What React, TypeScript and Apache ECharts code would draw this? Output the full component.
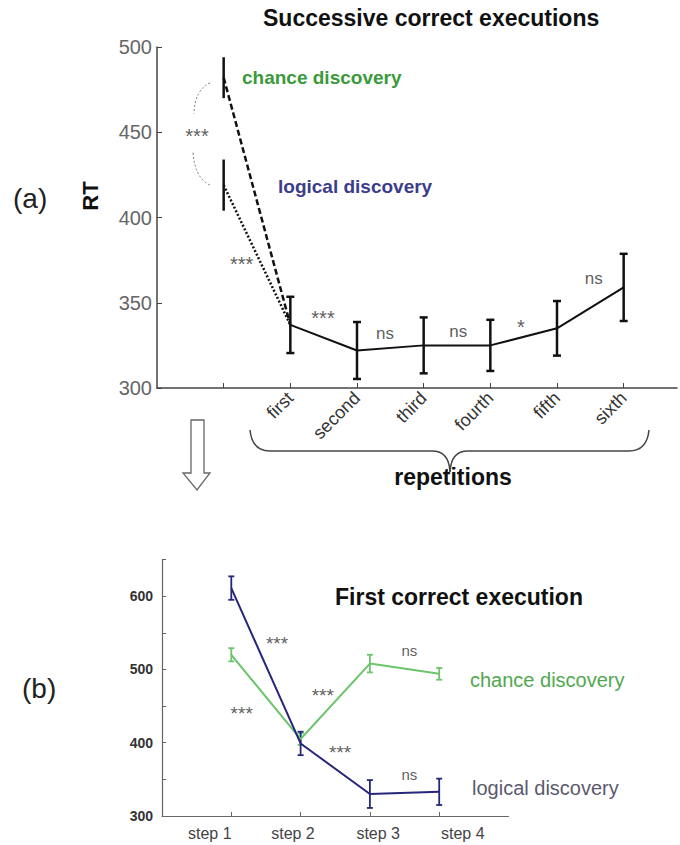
import React, { useEffect, useRef } from "react";
import * as echarts from "echarts";

// ---------- data ----------
const repNames = ["first", "second", "third", "fourth", "fifth", "sixth"];
const repX = [2, 3, 4, 5, 6, 7];
const repMeans = [337, 322, 325, 325, 335, 359];
const repErr = [16.5, 16.7, 16.4, 15, 16, 19.7];

const discX = 1;
const chanceDiscMean = 482;
const chanceDiscErr = 12;
const logicalDiscMean = 419;
const logicalDiscErr = 15;

const topSigX = [0.6, 1.27, 2.49, 3.42, 4.52, 5.46, 6.55];
const topSigY = [448, 373, 341, 332, 333, 336, 364];
const topSigText = ["***", "***", "***", "ns", "ns", "*", "ns"];

const topYTicks = [300, 350, 400, 450, 500];

const stepNames = ["step 1", "step 2", "step 3", "step 4"];
const stepX = [1, 2, 3, 4];
const stepLabelPos = [0.69, 1.89, 3.12, 4.34];
const logicalMeans = [611, 399, 330, 333];
const logicalErr = [16, 16, 19, 18];
const chanceMeans = [520, 405, 508, 494];
const chanceErr = [9, 8, 12, 8];

const botSigX = [1.66, 1.15, 2.32, 2.57, 3.57, 3.57];
const botSigY = [536, 440, 465, 386, 526, 356];
const botSigText = ["***", "***", "***", "***", "ns", "ns"];

const FONT = "Liberation Sans, Arial, Helvetica, sans-serif";

function errRender(color: string, width: number, cap: number) {
  return (params: any, api: any) => {
    const x = api.value(0);
    const lo = api.value(1);
    const hi = api.value(2);
    const p1 = api.coord([x, lo]);
    const p2 = api.coord([x, hi]);
    const style = { stroke: color, lineWidth: width };
    const children: any[] = [
      { type: "line", shape: { x1: p1[0], y1: p1[1], x2: p2[0], y2: p2[1] }, style },
    ];
    if (cap > 0) {
      children.push({ type: "line", shape: { x1: p1[0] - cap, y1: p1[1], x2: p1[0] + cap, y2: p1[1] }, style });
      children.push({ type: "line", shape: { x1: p2[0] - cap, y1: p2[1], x2: p2[0] + cap, y2: p2[1] }, style });
    }
    return { type: "group", children };
  };
}

function arcRender(params: any, api: any) {
  const a = api.coord([api.value(0), api.value(1)]);
  const c = api.coord([api.value(2), api.value(3)]);
  const b = api.coord([api.value(4), api.value(5)]);
  return {
    type: "bezierCurve",
    shape: { x1: a[0], y1: a[1], cpx1: c[0], cpy1: c[1], x2: b[0], y2: b[1] },
    style: { stroke: "#777", lineWidth: 1, lineDash: [2, 2], fill: null },
  };
}

// bracket arcs: [x1, y1, cpx, cpy, x2, y2] in data units
const arcUpper = [0.795, 479, 0.57, 475, 0.555, 461];
const arcLower = [0.54, 438, 0.57, 423, 0.795, 419];

function sigSeries(xs: number[], ys: number[], texts: string[], xi: number, starSize: number, nsSize: number) {
  return {
    type: "scatter",
    xAxisIndex: xi,
    yAxisIndex: xi,
    symbolSize: 0,
    silent: true,
    itemStyle: { color: "#333" },
    data: xs.map((x, i) => ({
      value: [x, ys[i]],
      name: texts[i],
      label: { fontSize: texts[i].includes("*") ? starSize : nsSize },
    })),
    label: {
      show: true,
      position: "inside",
      formatter: (p: any) => p.name,
      color: "#333",
      textBorderWidth: 0,
      fontFamily: FONT,
    },
  };
}

export default function App() {
  const ref = useRef<HTMLDivElement>(null);
  useEffect(() => {
    document.body.style.margin = "0";
    const chart = echarts.init(ref.current!, null, { renderer: "svg" });
    const axisLine = { show: true, lineStyle: { color: "#444", width: 1.5 } };
    const option: any = {
      animation: false,
      backgroundColor: "#fff",
      grid: [
        { left: 157, top: 47, width: 520, height: 341, outerBoundsMode: "none" },
        { left: 162, top: 559.5, width: 346.5, height: 256.5, outerBoundsMode: "none" },
      ],
      xAxis: [
        {
          type: "value",
          gridIndex: 0,
          min: 0,
          max: 7.8,
          interval: 1,
          splitLine: { show: false },
          axisLine,
          axisTick: { show: true, inside: true, length: 5, customValues: [1, 2, 3, 4, 5, 6, 7], lineStyle: { color: "#444" } },
          axisLabel: {
            rotate: 45,
            margin: 7,
            customValues: repX,
            formatter: (v: number) => repNames[repX.indexOf(v)] ?? "",
            color: "#333",
            fontSize: 18,
            fontFamily: FONT,
          },
        },
        {
          type: "value",
          gridIndex: 1,
          min: 0,
          max: 5,
          interval: 1,
          splitLine: { show: false },
          axisLine: { show: true, lineStyle: { color: "#666", width: 1.2 } },
          axisTick: { show: true, inside: true, length: 4, customValues: stepX, lineStyle: { color: "#666" } },
          axisLabel: {
            margin: 9,
            customValues: stepLabelPos,
            formatter: (v: number) => {
              let best = 0;
              stepLabelPos.forEach((p, i) => {
                if (Math.abs(p - v) < Math.abs(stepLabelPos[best] - v)) best = i;
              });
              return stepNames[best];
            },
            color: "#444",
            fontSize: 16,
            fontFamily: FONT,
          },
        },
      ],
      yAxis: [
        {
          type: "value",
          gridIndex: 0,
          min: 300,
          max: 500,
          interval: 50,
          splitLine: { show: false },
          axisLine,
          axisTick: { show: true, inside: true, length: 5, lineStyle: { color: "#444" } },
          axisLabel: { margin: 5, color: "#666", fontSize: 20, fontFamily: FONT, customValues: topYTicks },
        },
        {
          type: "value",
          gridIndex: 1,
          min: 300,
          max: 650,
          interval: 50,
          splitLine: { show: false },
          axisLine: { show: true, lineStyle: { color: "#666", width: 1.2 } },
          axisTick: { show: true, inside: true, length: 4, lineStyle: { color: "#666" } },
          axisLabel: {
            margin: 9,
            color: "#333",
            fontSize: 14,
            fontWeight: "bold",
            fontFamily: FONT,
            formatter: (v: number) => (v % 100 === 0 ? String(v) : ""),
          },
        },
      ],
      series: [
        {
          type: "line",
          xAxisIndex: 0,
          yAxisIndex: 0,
          data: repX.map((x, i) => [x, repMeans[i]]),
          symbol: "none",
          lineStyle: { color: "#111", width: 2 },
        },
        {
          type: "line",
          xAxisIndex: 0,
          yAxisIndex: 0,
          data: [[discX, chanceDiscMean], [repX[0], repMeans[0]]],
          symbol: "none",
          lineStyle: { color: "#111", width: 2.5, type: [6, 3] },
        },
        {
          type: "line",
          xAxisIndex: 0,
          yAxisIndex: 0,
          data: [[discX, logicalDiscMean], [repX[0], repMeans[0]]],
          symbol: "none",
          lineStyle: { color: "#111", width: 2.5, type: [2, 2] },
        },
        {
          type: "custom",
          xAxisIndex: 0,
          yAxisIndex: 0,
          renderItem: errRender("#111", 2.5, 4),
          encode: { x: 0, y: [1, 2] },
          data: repX.map((x, i) => [x, repMeans[i] - repErr[i], repMeans[i] + repErr[i]]),
        },
        {
          type: "custom",
          xAxisIndex: 0,
          yAxisIndex: 0,
          renderItem: errRender("#111", 2.5, 0),
          encode: { x: 0, y: [1, 2] },
          data: [
            [discX, chanceDiscMean - chanceDiscErr, chanceDiscMean + chanceDiscErr],
            [discX, logicalDiscMean - logicalDiscErr, logicalDiscMean + logicalDiscErr],
          ],
        },
        {
          type: "custom",
          xAxisIndex: 0,
          yAxisIndex: 0,
          renderItem: arcRender,
          data: [arcUpper, arcLower],
        },
        sigSeries(topSigX, topSigY, topSigText, 0, 20, 17),
        {
          type: "line",
          xAxisIndex: 1,
          yAxisIndex: 1,
          data: stepX.map((x, i) => [x, chanceMeans[i]]),
          symbol: "none",
          lineStyle: { color: "#6cc46c", width: 2 },
        },
        {
          type: "line",
          xAxisIndex: 1,
          yAxisIndex: 1,
          data: stepX.map((x, i) => [x, logicalMeans[i]]),
          symbol: "none",
          lineStyle: { color: "#26267a", width: 2 },
        },
        {
          type: "custom",
          xAxisIndex: 1,
          yAxisIndex: 1,
          renderItem: errRender("#6cc46c", 1.8, 3),
          encode: { x: 0, y: [1, 2] },
          data: stepX.map((x, i) => [x, chanceMeans[i] - chanceErr[i], chanceMeans[i] + chanceErr[i]]),
        },
        {
          type: "custom",
          xAxisIndex: 1,
          yAxisIndex: 1,
          renderItem: errRender("#26267a", 1.8, 3),
          encode: { x: 0, y: [1, 2] },
          data: stepX.map((x, i) => [x, logicalMeans[i] - logicalErr[i], logicalMeans[i] + logicalErr[i]]),
        },
        sigSeries(botSigX, botSigY, botSigText, 1, 19, 15),
      ],
      graphic: [
        { type: "text", x: 263, y: 18, style: { text: "Successive correct executions", font: `bold 23px ${FONT}`, fill: "#111", verticalAlign: "middle" } },
        { type: "text", x: 242, y: 77, style: { text: "chance discovery", font: `bold 19px ${FONT}`, fill: "#3a9a3a", verticalAlign: "middle" } },
        { type: "text", x: 278, y: 186, style: { text: "logical discovery", font: `bold 19px ${FONT}`, fill: "#3c3c8c", verticalAlign: "middle" } },
        { type: "text", x: 13, y: 198, style: { text: "(a)", font: `28px ${FONT}`, fill: "#222", verticalAlign: "middle" } },
        { type: "text", x: 90, y: 196, rotation: Math.PI / 2, style: { text: "RT", font: `bold 22px ${FONT}`, fill: "#111", align: "center", verticalAlign: "middle" } },
        { type: "text", x: 453, y: 477, style: { text: "repetitions", font: `bold 23px ${FONT}`, fill: "#111", align: "center", verticalAlign: "middle" } },
        // brace
        { type: "bezierCurve", shape: { x1: 250, y1: 430, cpx1: 252, cpy1: 451, x2: 270, y2: 451 }, style: { stroke: "#444", lineWidth: 1.5, fill: null } },
        { type: "line", shape: { x1: 270, y1: 451, x2: 432, y2: 451 }, style: { stroke: "#444", lineWidth: 1.5 } },
        { type: "bezierCurve", shape: { x1: 432, y1: 451, cpx1: 449, cpy1: 451, x2: 450, y2: 472 }, style: { stroke: "#444", lineWidth: 1.5, fill: null } },
        { type: "bezierCurve", shape: { x1: 450, y1: 472, cpx1: 451, cpy1: 451, x2: 468, y2: 451 }, style: { stroke: "#444", lineWidth: 1.5, fill: null } },
        { type: "line", shape: { x1: 468, y1: 451, x2: 629, y2: 451 }, style: { stroke: "#444", lineWidth: 1.5 } },
        { type: "bezierCurve", shape: { x1: 629, y1: 451, cpx1: 647, cpy1: 451, x2: 649, y2: 430 }, style: { stroke: "#444", lineWidth: 1.5, fill: null } },
        // arrow
        {
          type: "polygon",
          shape: { points: [[191, 420], [204, 420], [204, 473], [210, 473], [197, 490], [183, 473], [191, 473]] },
          style: { fill: "#fff", stroke: "#666", lineWidth: 1.3 },
        },
        { type: "text", x: 22, y: 688, style: { text: "(b)", font: `28px ${FONT}`, fill: "#222", verticalAlign: "middle" } },
        { type: "text", x: 335, y: 597, style: { text: "First correct execution", font: `bold 23px ${FONT}`, fill: "#111", verticalAlign: "middle" } },
        { type: "text", x: 470, y: 680, style: { text: "chance discovery", font: `20px ${FONT}`, fill: "#4fa84f", verticalAlign: "middle" } },
        { type: "text", x: 472, y: 788, style: { text: "logical discovery", font: `20px ${FONT}`, fill: "#5a5a6e", verticalAlign: "middle" } },
      ],
    };
    chart.setOption(option);
    return () => chart.dispose();
  }, []);
  return <div ref={ref} style={{ position: "absolute", left: 0, top: 0, width: 680, height: 845 }} />;
}
